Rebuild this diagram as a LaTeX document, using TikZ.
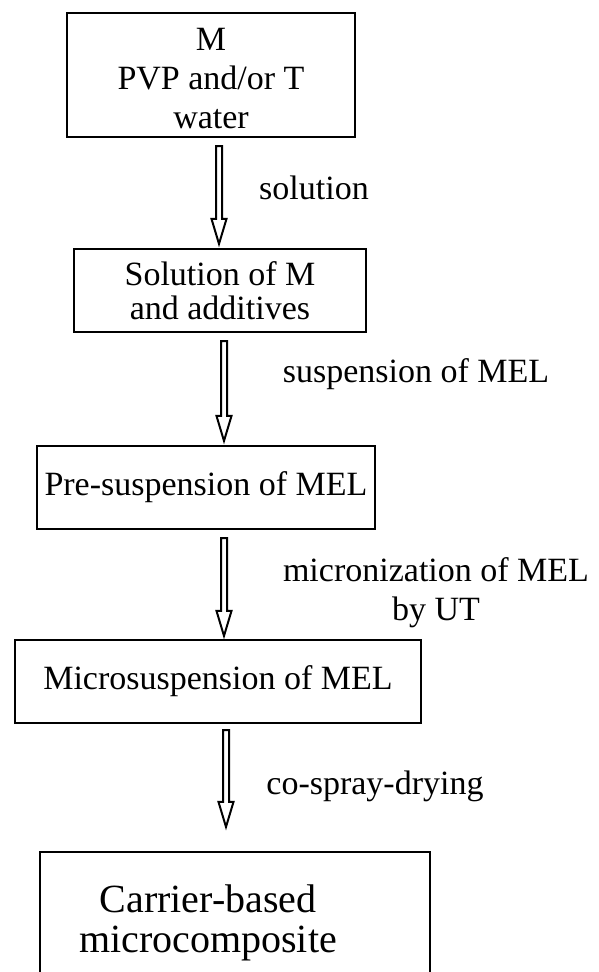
\documentclass[tikz,border=0pt]{standalone}
\usepackage{fontspec}
\setmainfont{Liberation Serif}
\usetikzlibrary{calc}
\newcommand\hollowarrow[2]{%
  \draw[hollowarrowstyle] ($(#1)+(-3,0)$) -- ($(#2)+(-3,-25)$) -- ($(#2)+(-7.5,-25)$) -- (#2)
    -- ($(#2)+(7.5,-25)$) -- ($(#2)+(3,-25)$) -- ($(#1)+(3,0)$) -- cycle;}
\begin{document}
\begin{tikzpicture}[x=1pt,y=-1pt,
  box/.style={draw, line width=2.2pt, rectangle, inner sep=0pt, align=center,
    font=\fontsize{34}{39}\selectfont},
  lbl/.style={inner sep=0pt, align=center, font=\fontsize{34}{39}\selectfont},
  hollowarrowstyle/.style={draw, line width=2pt, line join=miter, fill=white}]
\clip (0,0) rectangle (598,972);
\fill[white] (0,0) rectangle (598,972);
% boxes
\node[box, minimum width=288, minimum height=124] (b1) at (211,75) {};
\node[lbl] (t1) at (211,79) {M\\PVP and/or T\\water};
\node[box, minimum width=292, minimum height=83, font=\fontsize{34}{34}\selectfont] (b2) at (220,290.5) {Solution of M\\and additives};
\node[box, minimum width=338, minimum height=83] (b3) at (206,487.5) {Pre-suspension of MEL};
\node[box, minimum width=406, minimum height=83] (b4) at (218,681.5) {Microsuspension of MEL};
\node[box, minimum width=390, minimum height=160] (b5) at (235,932) {};
\node[lbl, font=\fontsize{40}{40}\selectfont] (t5) at (208,923) {Carrier-based\\microcomposite};
% arrows
\coordinate (a1t) at ($(b1.south)+(8,8)$);
\coordinate (a1h) at ($(b2.north -| a1t)+(0,-4)$);
\hollowarrow{a1t}{a1h}
\coordinate (a2t) at ($(b2.south -| 224,0)+(0,8)$);
\coordinate (a2h) at ($(b3.north -| a2t)+(0,-4)$);
\hollowarrow{a2t}{a2h}
\coordinate (a3t) at ($(b3.south -| 224,0)+(0,8)$);
\coordinate (a3h) at ($(b4.north -| a3t)+(0,-3)$);
\hollowarrow{a3t}{a3h}
\coordinate (a4t) at ($(b4.south -| 226,0)+(0,6)$);
\coordinate (a4h) at ($(b5.north -| a4t)+(0,-24)$);
\hollowarrow{a4t}{a4h}
% labels
\node[lbl] (l1) at (314,188) {solution};
\node[lbl] (l2) at (416,374) {suspension of MEL};
\node[lbl] (l3) at (436,593) {micronization of MEL\\by UT};
\node[lbl] (l4) at (375,786) {co-spray-drying};
\end{tikzpicture}
\end{document}
